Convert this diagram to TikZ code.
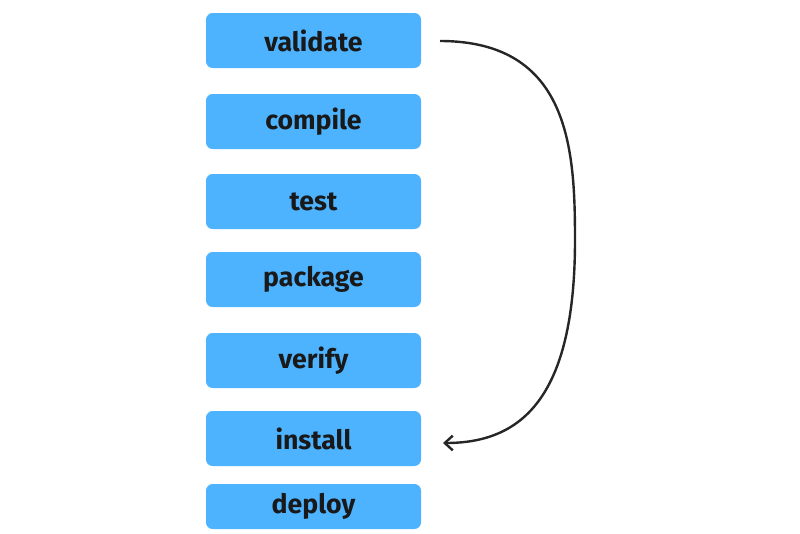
\documentclass[tikz,border=0pt]{standalone}
\usepackage{fontspec}
\setmainfont{Fira Sans}
\usetikzlibrary{arrows.meta}
\definecolor{boxc}{HTML}{4DB3FF}
\begin{document}
\begin{tikzpicture}[x=0.75pt,y=-0.75pt,
  box/.style={fill=boxc,rounded corners=5pt,minimum width=161.25pt,inner sep=0pt,font=\fontsize{20}{24}\selectfont\bfseries,text=black!90},
  conn/.style={line width=1.8pt,draw=black!85,-{Straight Barb[length=6pt,width=11pt]}}]
\useasboundingbox (0,0) rectangle (800,533);
\node[box,minimum height=41.25pt] (v) at (313.5,40.5) {validate};
\node[box,minimum height=41.25pt] (c) at (313.5,121.5) {compile};
\node[box,minimum height=41.25pt] (t) at (313.5,201.5) {test};
\node[box,minimum height=41.25pt] (p) at (313.5,279.5) {package};
\node[box,minimum height=41.25pt] (ve) at (313.5,360.5) {verify};
\node[box,minimum height=41.25pt] (i) at (313.5,438.5) {install};
\node[box,minimum height=33.75pt] (d) at (313.5,506.5) {deploy};
\coordinate (a) at (440,41);
\coordinate (b) at (443,443);
\draw[conn] (a) .. controls (570,41) and (575,150) .. (575,240) .. controls (575,400) and (520,443) .. (b);
\end{tikzpicture}
\end{document}
